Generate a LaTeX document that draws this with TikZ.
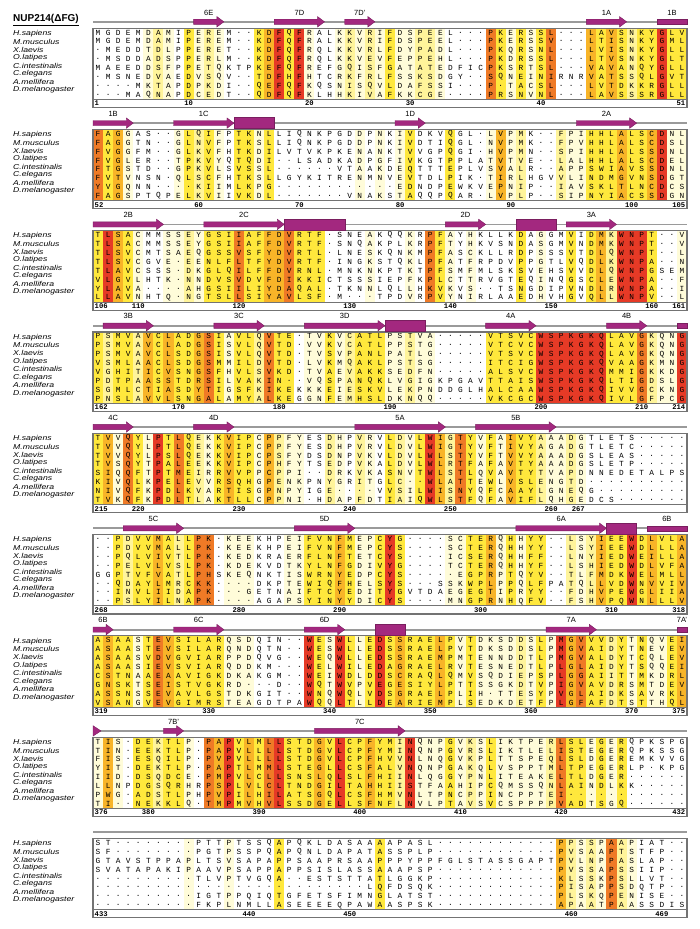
\documentclass[tikz,border=0pt]{standalone}
\usepackage{fontspec}
\setmainfont{Liberation Sans}
\newfontfamily\resfamily{Liberation Mono}

% similarity colours
\definecolor{cp}{HTML}{FFFCD9}
\definecolor{cl}{HTML}{FFF49A}
\definecolor{cy}{HTML}{FFE83C}
\definecolor{co}{HTML}{F8B428}
\definecolor{cd}{HTML}{EF7A26}
\definecolor{cr}{HTML}{E63A26}
\definecolor{ssmag}{HTML}{A3287F}
\definecolor{ssline}{HTML}{9A9A9A}

\def\xo{93}
\def\cw{10.068}

\makeatletter
\newcommand\blockgeom[1]{%
  \def\blk{#1}%
  \pgfmathsetmacro\yr{103.5+101.3*(#1-1)}%
  \pgfmathsetmacro\ytop{\yr-75.45}%
  \pgfmathsetmacro\yss{\yr-81.7}%
  \pgfmathsetmacro\ylab{\yr-91}}
\newcommand\colband[1]{%
  \def\bandcol{0}%
  \@tfor\cc:=#1\do{%
    \pgfmathtruncatemacro\bandcol{\bandcol+1}%
    \if w\cc\else
      \fill[fill=c\cc] ({\xo+(\bandcol-1)*\cw},\ytop) rectangle ++(\cw,71.2);%
    \fi}}
\newcommand\resrow[2]{%
  \def\rescol{0}%
  \pgfmathsetmacro\yrow{\yr-71+(#1-1)*8.9}%
  \@tfor\ch:=#2\do{%
    \pgfmathtruncatemacro\rescol{\rescol+1}%
    \node[res] (r\blk-#1-\rescol) at ({\xo+(\rescol-0.5)*\cw},\yrow) {\ch};}}
\makeatother

\newcommand\blockframe{%
  \draw[frame] (\xo,\ytop) rectangle (\xo+594,\yr+4);
  \draw[frame, line width=0.6pt] (\xo,\yr-4.25) -- (\xo+594,\yr-4.25);
  \foreach \sp [count=\i] in {H.sapiens,M.musculus,X.laevis,O.latipes,
      C.intestinalis,C.elegans,A.mellifera,D.melanogaster}
    \node[spec] (sp\blk-\i) at (13,{\yr-70+(\i-1)*8}) {\scalebox{1.22}[1]{\sp}};}
\newcommand\ssbar{\draw[ssbar] (\xo,\yss) -- (\xo+594,\yss);}
\newcommand\strand[3]{%
  \pgfmathsetmacro\sa{\xo+(#1-1)*\cw}%
  \pgfmathsetmacro\sb{\xo+#2*\cw}%
  \fill[ss] (\sa,\yss-2.6) -- (\sb-7,\yss-2.6) -- (\sb-7,\yss-5.2) -- (\sb,\yss)
    -- (\sb-7,\yss+5.2) -- (\sb-7,\yss+2.6) -- (\sa,\yss+2.6) -- cycle;
  \node[sslab] (ss\blk-#3) at ({(\sa+\sb)/2},\ylab) {#3};}
\newcommand\ssbox[3]{%
  \pgfmathsetmacro\sa{\xo+(#1-1)*\cw}%
  \pgfmathsetmacro\sb{\xo+#2*\cw}%
  \fill[ss] (\sa,\yss-2.6) rectangle (\sb,\yss+2.6);
  \ifx&#3&\else\node[sslab] (ss\blk-#3) at ({(\sa+\sb)/2},\ylab) {#3};\fi}
\newcommand\helix[2]{%
  \pgfmathsetmacro\sa{\xo+(#1-1)*\cw}%
  \pgfmathsetmacro\sb{\xo+#2*\cw}%
  \fill[ss] (\sa,\yss-5.5) rectangle (\sb,\yss+5.5);}
\newcommand\rulernums[3]{%
  \node[num, anchor=west] (n\blk-#1) at (\xo+1.5,\yr) {#1};
  \foreach \c/\n in {#2}
    \node[num] (n\blk-\n) at ({\xo+(\c-0.5)*\cw},\yr) {\n};
  \ifx&#3&\else\node[num, anchor=east] (n\blk-#3) at (\xo+592.5,\yr) {#3};\fi}

\begin{document}
\begin{tikzpicture}[x=1pt, y=-1pt,
    res/.style={font=\resfamily\fontsize{7.8}{7.8}\selectfont, text=black, inner sep=0pt},
    spec/.style={font=\itshape\fontsize{7.1}{7.1}\selectfont, anchor=west, inner sep=0pt},
    num/.style={font=\resfamily\bfseries\fontsize{7.2}{7.2}\selectfont, inner sep=0pt},
    sslab/.style={font=\fontsize{7.5}{8}\selectfont, inner sep=0pt},
    ss/.style={fill=ssmag, draw=ssmag!75!black, line width=0.4pt},
    ssbar/.style={draw=ssline, line width=1.8pt},
    frame/.style={draw=black!55, line width=1.1pt},
  ]
\useasboundingbox (0,0) rectangle (700,929);

% block 1
\blockgeom{1}
\colband{wwwwwplpwyplpwwwyoryrpwwplplpyppllpwwwwdypypydwwwoyoylyyryy}
\resrow{1}{MGDEMDAMIPEREM..KDFQFRALKKVRIFDSPEEL...PKERSSL...LAVSNKYGLV}
\resrow{2}{MGDEMDAMIPEREM..KDFQFRALKKVRIFDSPEEL...PKERSSV...LTISNKYGML}
\resrow{3}{.MEDDTDLPPERET..KDFQFRQLKKVRLFDYPADL...PKQRSNL...LVISNKYGLL}
\resrow{4}{.MSDDADSPPERLM..KDFQFRQLKKVEVFEPPEHL...PKDRSSL...LTVSNKYGLT}
\resrow{5}{MAEEDDSFPPETQKTPKEFQFREFGQISFGATATEDFICPKSRTSL...VAVANQYGLL}
\resrow{6}{.MSNEDVAEDVSQV..TDFHFHTCRKFRLFSSKSDGY..SQNEINIRNRVATSSQLGVT}
\resrow{7}{....MKTAPDPKDI..QEFQFKQSNISQVLDAFSSI...P.TACSL...LVTDKKRGLL}
\resrow{8}{...MAQNAPDCEDT..QDFQFKLHHKIVAFKKCGE....PRSNVNL...LAVSSSRGLL}
\blockframe
\rulernums{1}{10/10,22/20,32/30,45/40}{51}
\ssbar
\strand{11}{13}{6E}
\strand{19}{23}{7D}
\strand{26}{28}{7D'}
\strand{50}{53}{1A}
\ssbox{57}{59}{1B}
\node[font=\bfseries\fontsize{10}{10}\selectfont, anchor=west, inner sep=0pt] (title) at (13,\yss-2) {\underline{NUP214(ΔFG)}};

% block 2
\blockgeom{2}
\colband{dyopwwwwpylypwyypywwwwwwwwpwpwpywwwywwwpoplwwwlppyyyoyyorpp}
\resrow{1}{FAGGAS..GLQIFPTKNLLIQNKPGDDPNKIVDKVQGL.LVPMK..FPIHHLALSCDNL}
\resrow{2}{FAGGTN..GLNVFPTKSLLIQNKPGDDPNKIVDTIQGL.NVPMK..FPVHHLALSCDSL}
\resrow{3}{FVGGFM..GLKVFHTKDILVTVKPKENANKTVVGPQGI.HVPMN..SPIHHLALSSDNL}
\resrow{4}{FVGLER..TPKVYQTQDI..LSADKADPGFIVKGTPPLATVTVE..LALHHLALSCDEL}
\resrow{5}{FTGSTD..GPKVLSVSSL......VTAAKDEQTTTEPLVSVALR..APPSWIAVSSDNL}
\resrow{6}{FVTVNSN.QLSCFHTKSLLGYKITRENMNVEVTDLPIK.TIRLHGVVLINDMGVNSDGT}
\resrow{7}{YVGQNN....KIIMLKPG............EDNDPEWKVEPNIP..IAVSKLTLNCDCS}
\resrow{8}{FAGSPTQPELKVIIVKDL.......VNAKSTAQQPQAR.LVPLP..SIPNYIACSSDGN}
\blockframe
\rulernums{52}{11/60,21/70,31/80,42/90,54/100}{105}
\ssbar
\strand{1}{4}{1B}
\strand{9}{14}{1C}
\helix{15}{18}
\strand{31}{33}{1D}
\strand{49}{54}{2A}

% block 3
\blockgeom{3}
\colband{yroypwwpplpyyydyyoodyyywwwwpwwwpwdypwpwwwwywpwwywyolrrrywwp}
\resrow{1}{TLSACMMSSEYGSIIAFFDVRTF.SNEAKQQKRPFAYHKLLKDAGGMVIDMKWNPT..V}
\resrow{2}{TLSACMMSSEYGSIIAFFDVRTF.SNQAKPLKRPFTYHKVSNDASGMVNDMKWNPT..V}
\resrow{3}{TLSVCMTSAEQGSSVSFYDVRTL.LNESKQNKMPFASCKLLRDPSSSVTDLQWNPT..L}
\resrow{4}{TLSVCGVE.EENLFLTFYDVRTF.INGKSTQKLPFATFRPDVPPGTLVQDLKWNPA..N}
\resrow{5}{TLAVCSSS.DKGLQILFFDVRNL.MNKNKPTKTPFSMFMLSKSVEHSVVDLQWNPGSEM}
\resrow{6}{VLGVLHTK.NNDVSVDVFDIKKICTSSSIEPFKPLCTTRVGTEQINQGSCLEWNPA..F}
\resrow{7}{YLAVA....AHGSIILIYDAQAL.TKNNLQLLHKVKVS..TSNGDIPVNDLRWNPA..I}
\resrow{8}{LLAVNHTQ.NGTSLLSIYAVLSF.M...TPDVRPVYNIRLAAEDHVHGVQLLWNPV..L}
\blockframe
\rulernums{106}{5/110,15/120,26/130,36/140,46/150,56/160}{161}
\ssbar
\strand{1}{7}{2B}
\strand{12}{19}{2C}
\helix{20}{25}
\strand{36}{39}{2D}
\helix{43}{46}
\strand{48}{52}{3A}

% block 4
\blockgeom{4}
\colband{ylyyloyoyyodypyyldyywppyplyyypplppwwwwwyyyyyrrrrrrryyydlppr}
\resrow{1}{PSMVAVCLADGSIAVLQVTE.TVKVCATLPSTVA.....VTSVCWSPKGKQLAVGKQNG}
\resrow{2}{PSMVAVCLADGSISVLQVTD.VVKVCATLPPSTG.....VTCVCWSPKGKQLAVGKQNG}
\resrow{3}{PSMVAVCLSDGSISVLQVTD.TVSVPANLPATLG.....VTSVCWSPKGKQLAVGKQNG}
\resrow{4}{VSMLAACLSDGSMMILDVTD.LVKMQAKLPSTSG.....ITCIGWSPKGKQVAAGKMNG}
\resrow{5}{VGHITICVSNGSFHVLSVKD.TVAEVAKKSEDFN.....ALSVCWSPKGKQMMIGKKDG}
\resrow{6}{PDTPAASSTDRSILVAKIN..VQSPANQKLVGIGKPGAVTTAISWSPKGKQLTIGDSLG}
\resrow{7}{SGMLCTIASDYTIGSFKIKEKKKEIESKVLEKPNDDGLHALCAAWSPKGKQIVVGCKNG}
\resrow{8}{PNSLAVVLSNGALAMYALKEGGNFEMHSLDKNQQ.....VKCGCWSPKGKQIVLGFPCG}
\blockframe
\rulernums{162}{9/170,19/180,30/190,45/200,55/210}{214}
\ssbar
\strand{2}{6}{3B}
\strand{13}{17}{3C}
\strand{22}{29}{3D}
\helix{30}{33}
\strand{40}{44}{4A}
\strand{52}{55}{4B}
\ssbox{59}{59}{}

% block 5
\blockgeom{5}
\colband{yopdyprydylpyoyypolppwwlpwlpwylpyroldypypoyylpplpwwwwwwwwww}
\resrow{1}{TVVQYLPTLQEKKVIPCPPFYESDHPVRVLDVLWIGTYVFAIVYAAADGTLETS.....}
\resrow{2}{TVVQYLPTLQEKKVIPCPPFYESDHPVRVLDVLWIGTYVFTIVYAGADGTLETC.....}
\resrow{3}{TVVQYLPSLQEKKVIPCPSFYDSDNPVKVLDVLWLSTYVFTVVYAAADGSLEAS.....}
\resrow{4}{TVSQYTPALEEKKVIPCPHFYTSEDPVKALDVLWLRTFAFAVTYAAADGSLETP.....}
\resrow{5}{SIQQFTPTMEIRRVVPPCPPI..DRKVKASNVTWLSTLQVAVTYTVAPDNNEDETALPS}
\resrow{6}{KIVQLKPELEVVRSQHGPENKPNYGRITGLC..WLATTEWLVSLENGTD..........}
\resrow{7}{NIVQFKPDLKVARTISGPNPYIGE....VVSILWISNYQFCAAYLGNEQG.........}
\resrow{8}{TVKQFKPDLTLAKTLLCPPNI.HDAPFDTIAIQWLSTFQFAVIFLQHGEDCS.......}
\blockframe
\rulernums{215}{5/220,15/230,26/240,36/250,46/260,48.7/267}{}
\ssbar
\strand{1}{4}{4C}
\strand{11}{14}{4D}
\strand{27}{35}{5A}
\strand{39}{46}{5B}

% block 6
\blockgeom{6}
\colband{wwylyyoylyddwpppwwwppyyyoyppyrywwwwppyyopypyywwlployyryoyyo}
\resrow{1}{..PDVVMALLPK.KEEKHPEIFVNFMEPCYG....SCTERQHHYY..LSYIEEWDLVLA}
\resrow{2}{..PDVVMALLPK.KEEKHPEIFVNFMEPCYS....SCTERQHHYY..LSYIEEWDLLLA}
\resrow{3}{..PQLVIVTLPK.KEDKRAERFLNFTETCYS....ICSERQHHFF..LNYIEDWEILLA}
\resrow{4}{..PELVLVSLPK.KDEKVDTKYLNFGDIVYG....TCTERQHHYF..LSHIEDWDLVFA}
\resrow{5}{GGPTVFVATLPHSKEQNKTISWRNYEDPCYS.....EGPRPTQYV..TLFMDKWELMLL}
\resrow{6}{..QDAYLMRCKK....DKPTEWIQFHELSYS...SSKWPLPPQLFPATQLLVDWNVVIV}
\resrow{7}{..INVLIIDAPK...GETNAIFTCYEDITYGVTDAEGEGTIPRYY..FDHVPEWGLIIA}
\resrow{8}{..PSLYILNAPK....AGAPSYINYYDICYS....MNGPRNHQFV..FSHVPQWNLLLV}
\blockframe
\rulernums{268}{15/280,25/290,39/300,52/310}{318}
\ssbar
\strand{4}{9}{5C}
\strand{21}{26}{5D}
\strand{43}{51}{6A}
\helix{52}{54}
\ssbox{56}{59}{6B}

% block 7
\blockgeom{7}
\colband{yoyypydoyyyyypppwwwwwryprypyryoyyyoypypppplpyprodyylypyppyo}
\resrow{1}{ASAASTEVSILARQSDQIN..WESWLLEDSSRAELPVTDKSDDSLPMGVVVDYTNQVEI}
\resrow{2}{ASAASTEVSILARQNDQTN..WESWLLEDSSRAELPVTDKSDDSLPMGVAIDYTNEVEV}
\resrow{3}{ASAASVDVGVIARPPDQVG..WEQWLLEDSSRAEMPMTENNDDTLPMGVALDYTCQLEV}
\resrow{4}{ASAASIEVSVIARQDDKM...WELWILEDAGRAELRVTESNEDTLPLGLAIDYTSQQEI}
\resrow{5}{CSTNAAEAAVIGKDKAKGM..WEIWDLDDSCRAQLQMVSQDIEPSPLGGAIITTMKDRL}
\resrow{6}{GNSKTSEISTVGKRD...D..WQTWVPVEGESIYLPTTSSGKDTVPIGVAVDRSMTDEV}
\resrow{7}{ASSNSSEVAVLGSTDKGIT..WNQWQLVDSGRAELPLIH.TTESYPVGLAIDKSAVRKL}
\resrow{8}{VSANGVEVGIMRSTEAGDTPAWQQLTLLDEARIEMPLSEDKDETFPLGFAFDTSTTHQL}
\blockframe
\rulernums{319}{12/330,24/340,34/350,44/360,54/370}{375}
\ssbar
\strand{1}{2}{6B}
\strand{9}{13}{6C}
\strand{22}{25}{6D}
\helix{29}{31}
\strand{46}{50}{7A}
\ssbox{59}{59}{7A'}

% block 8
\blockgeom{8}
\colband{popwyylyypwdoryoydryyyoyryyoyylrpppyplpypppppldyypypywwwwww}
\resrow{1}{TIS.DEKTLP.PAPVLMLLSTDGVLCPFYMINQNPGVKSLIKTPERLSLEGERQPKSPG}
\resrow{2}{TIN.EEKTLP.PAPVLLLLSTDGVLCPFYMINQNPGVRSLIKTLELISTEGERQPKSSG}
\resrow{3}{FIS.ESQILP.PVPVLLLLSTDGVLCPFHVVNLNQGVKPLTTSPEQLSLDGEREMKVVG}
\resrow{4}{YIT.DEKTLP.PAPTLMMLSTEGLLCSFALVNQNPGAKQLVSPPTMLTPEGERLP.KPG}
\resrow{5}{IID.DSQDCE.PMPVLCLLSNSLQLSLFHIINLQGGYPNLITEAKELTLDGER......}
\resrow{6}{LLNPDGSQRHRPSPLVLCLTNDGILTAHHIISTFAAHIPCQMSSQNLAINDLKK.....}
\resrow{7}{PWG.ADSTLPHPVPILHILATSGQLCSFHMVNLTPNCPPINCPPTEI............}
\resrow{8}{TI..NEKKLQ.TMPMVHVLSSDGELLSFNFLNVLPTAVSVCSPPPPVADTSGQ......}
\blockframe
\rulernums{376}{6/380,17/390,27/400,37/410,47/420}{432}
\ssbar
\fill[ss] (\xo,\yss-5.2) -- (\xo+8,\yss) -- (\xo,\yss+5.2) -- cycle;
\strand{8}{9}{7B'}
\strand{23}{31}{7C}

% block 9
\blockgeom{9}
\colband{wwwwwwwwwpwwwpwwwwywwwwwwwwwywwwwwwwwwwwwwwwwwolplpdlpwwwww}
\resrow{1}{ST........PTTPTSSQAPQKLDASAAAAPASL............PPSSPAAPIAT..}
\resrow{2}{SF........PGTPSSPQAPQNLDAPATASSPLP............PVSAAPTSTFP..}
\resrow{3}{GTAVSTPPAPLTSVSAPAPPSAAPRSAAPPPYPPFGLSTASSGAPTPVLNPPASLAP..}
\resrow{4}{SVATAPAKIPAAVPSAPPAPPSISLASSAAAPSP............PVSSAPSSIIP..}
\resrow{5}{..........TLVPTVGQA..ESTSTTATLGGKP............KLSSKPSLLVT..}
\resrow{6}{...........................LQFDSQK............PISAPPSDQTP..}
\resrow{7}{..........IGTPPQIQTGFETSFIMNGLATST............PLSKQPENISE..}
\resrow{8}{..........FKPLNMLLASEEEEQPAWAASPSK............APAATPAASSDIS}
\blockframe
\rulernums{433}{16/440,26/450,48/460,57/469}{}
\ssbar
\end{tikzpicture}
\end{document}
